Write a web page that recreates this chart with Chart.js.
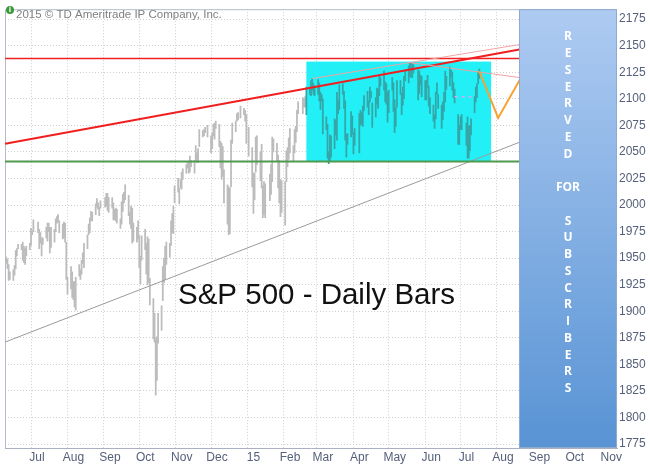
<!DOCTYPE html>
<html>
<head>
<meta charset="utf-8">
<script src="https://cdn.jsdelivr.net/npm/chart.js@4.4.1/dist/chart.umd.min.js"></script>
<style>
  body { margin: 0; background: #fff; }
  #chart { display: block; }
</style>
</head>
<body>
<canvas id="chart" width="650" height="467"></canvas>
<script>
// S&P 500 daily bars, Jun 2014 - Jul 2015 (low / high per session)
const barDates = [
  '2014-06-09','2014-06-10','2014-06-11','2014-06-12','2014-06-13','2014-06-16','2014-06-17','2014-06-18','2014-06-19','2014-06-20','2014-06-23','2014-06-24','2014-06-25','2014-06-26','2014-06-27','2014-06-30',
  '2014-07-01','2014-07-02','2014-07-03','2014-07-07','2014-07-08','2014-07-09','2014-07-10','2014-07-11','2014-07-14','2014-07-15','2014-07-16','2014-07-17','2014-07-18','2014-07-21','2014-07-22','2014-07-23','2014-07-24','2014-07-25','2014-07-28','2014-07-29','2014-07-30','2014-07-31',
  '2014-08-01','2014-08-04','2014-08-05','2014-08-06','2014-08-07','2014-08-08','2014-08-11','2014-08-12','2014-08-13','2014-08-14','2014-08-15','2014-08-18','2014-08-19','2014-08-20','2014-08-21','2014-08-22','2014-08-25','2014-08-26','2014-08-27','2014-08-28','2014-08-29',
  '2014-09-02','2014-09-03','2014-09-04','2014-09-05','2014-09-08','2014-09-09','2014-09-10','2014-09-11','2014-09-12','2014-09-15','2014-09-16','2014-09-17','2014-09-18','2014-09-19','2014-09-22','2014-09-23','2014-09-24','2014-09-25','2014-09-26','2014-09-29','2014-09-30',
  '2014-10-01','2014-10-02','2014-10-03','2014-10-06','2014-10-07','2014-10-08','2014-10-09','2014-10-10','2014-10-13','2014-10-14','2014-10-15','2014-10-16','2014-10-17','2014-10-20','2014-10-21','2014-10-22','2014-10-23','2014-10-24','2014-10-27','2014-10-28','2014-10-29','2014-10-30','2014-10-31',
  '2014-11-03','2014-11-04','2014-11-05','2014-11-06','2014-11-07','2014-11-10','2014-11-11','2014-11-12','2014-11-13','2014-11-14','2014-11-17','2014-11-18','2014-11-19','2014-11-20','2014-11-21','2014-11-24','2014-11-25','2014-11-26','2014-11-28',
  '2014-12-01','2014-12-02','2014-12-03','2014-12-04','2014-12-05','2014-12-08','2014-12-09','2014-12-10','2014-12-11','2014-12-12','2014-12-15','2014-12-16','2014-12-17','2014-12-18','2014-12-19','2014-12-22','2014-12-23','2014-12-24','2014-12-26','2014-12-29','2014-12-30','2014-12-31',
  '2015-01-02','2015-01-05','2015-01-06','2015-01-07','2015-01-08','2015-01-09','2015-01-12','2015-01-13','2015-01-14','2015-01-15','2015-01-16','2015-01-20','2015-01-21','2015-01-22','2015-01-23','2015-01-26','2015-01-27','2015-01-28','2015-01-29','2015-01-30',
  '2015-02-02','2015-02-03','2015-02-04','2015-02-05','2015-02-06','2015-02-09','2015-02-10','2015-02-11','2015-02-12','2015-02-13','2015-02-17','2015-02-18','2015-02-19','2015-02-20','2015-02-23','2015-02-24','2015-02-25','2015-02-26','2015-02-27',
  '2015-03-02','2015-03-03','2015-03-04','2015-03-05','2015-03-06','2015-03-09','2015-03-10','2015-03-11','2015-03-12','2015-03-13','2015-03-16','2015-03-17','2015-03-18','2015-03-19','2015-03-20','2015-03-23','2015-03-24','2015-03-25','2015-03-26','2015-03-27','2015-03-30','2015-03-31',
  '2015-04-01','2015-04-02','2015-04-06','2015-04-07','2015-04-08','2015-04-09','2015-04-10','2015-04-13','2015-04-14','2015-04-15','2015-04-16','2015-04-17','2015-04-20','2015-04-21','2015-04-22','2015-04-23','2015-04-24','2015-04-27','2015-04-28','2015-04-29','2015-04-30',
  '2015-05-01','2015-05-04','2015-05-05','2015-05-06','2015-05-07','2015-05-08','2015-05-11','2015-05-12','2015-05-13','2015-05-14','2015-05-15','2015-05-18','2015-05-19','2015-05-20','2015-05-21','2015-05-22','2015-05-26','2015-05-27','2015-05-28','2015-05-29',
  '2015-06-01','2015-06-02','2015-06-03','2015-06-04','2015-06-05','2015-06-08','2015-06-09','2015-06-10','2015-06-11','2015-06-12','2015-06-15','2015-06-16','2015-06-17','2015-06-18','2015-06-19','2015-06-22','2015-06-23','2015-06-24','2015-06-25','2015-06-26','2015-06-29','2015-06-30',
  '2015-07-01','2015-07-02','2015-07-06','2015-07-07','2015-07-08','2015-07-09','2015-07-10','2015-07-13','2015-07-14','2015-07-15','2015-07-16','2015-07-17'
];
const barLows = [
  1947,1945,1940,1929,1930,1929,1934,1940,1952,1959,1958,1948,1946,1944,1952,1958,
  1962,1972,1975,1974,1959,1964,1952,1963,1969,1966,1975,1955,1960,1965,1975,1983,1984,1974,1968,1969,1965,1930,
  1916,1921,1913,1911,1904,1901,1933,1930,1935,1945,1941,1959,1972,1974,1985,1985,1991,1998,1996,1990,1997,
  1998,1999,1995,1993,1997,1986,1986,1985,1983,1978,1982,1994,2002,2005,1990,1982,1978,1964,1966,1965,1968,
  1941,1926,1948,1958,1935,1925,1927,1906,1874,1871,1821,1835,1870,1882,1910,1927,1930,1944,1951,1962,1974,1973,2002,
  2012,2001,2016,2015,2024,2030,2035,2030,2031,2036,2030,2042,2040,2040,2055,2064,2065,2068,2064,
  2049,2053,2065,2062,2072,2055,2035,2024,2027,2002,1982,1972,1973,2017,2058,2069,2079,2080,2082,2085,2079,2058,
  2046,2017,1992,2005,2031,2038,2023,2016,1988,1991,1988,2004,2010,2022,2050,2041,2016,2002,1989,1993,
  1981,2022,2036,2043,2049,2041,2049,2059,2069,2086,2086,2092,2092,2085,2104,2103,2108,2104,2103,
  2104,2098,2090,2098,2067,2071,2044,2039,2041,2045,2053,2066,2061,2086,2090,2104,2091,2061,2045,2057,2064,2067,
  2048,2056,2049,2075,2076,2074,2089,2092,2085,2097,2101,2073,2083,2095,2091,2103,2112,2108,2097,2095,2078,
  2087,2108,2088,2068,2074,2092,2104,2085,2094,2100,2117,2115,2121,2120,2120,2124,2099,2105,2113,2102,
  2099,2099,2111,2093,2086,2079,2072,2081,2104,2091,2072,2080,2088,2097,2109,2112,2120,2108,2101,2096,2057,2057,
  2071,2071,2056,2044,2044,2051,2066,2087,2097,2101,2114,2119
];
const barHighs = [
  1955,1951,1949,1944,1937,1939,1943,1957,1959,1963,1963,1965,1961,1959,1961,1964,
  1978,1976,1986,1984,1977,1974,1969,1969,1979,1983,1983,1979,1979,1977,1987,1989,1991,1985,1982,1984,1983,1965,
  1932,1942,1937,1928,1928,1932,1944,1939,1948,1955,1964,1972,1982,1988,1994,1993,2001,2006,2002,1998,2004,
  2007,2011,2011,2007,2007,2002,1996,1997,1996,1987,2003,2010,2012,2019,2009,1993,1999,1997,1983,1979,1985,
  1971,1952,1971,1977,1964,1970,1968,1931,1912,1898,1874,1876,1898,1905,1942,1950,1961,1965,1964,1985,1992,1999,2018,
  2025,2016,2024,2031,2034,2038,2041,2040,2046,2042,2042,2056,2049,2053,2071,2070,2071,2073,2075,
  2065,2068,2076,2077,2079,2076,2060,2058,2055,2033,2019,2017,2016,2061,2077,2079,2086,2087,2093,2091,2089,2085,
  2073,2054,2030,2030,2064,2065,2050,2057,2018,2022,2020,2029,2038,2064,2062,2058,2047,2042,2024,2023,
  2022,2051,2054,2063,2072,2056,2071,2074,2089,2097,2101,2100,2102,2111,2111,2117,2119,2114,2112,
  2118,2115,2106,2104,2100,2083,2076,2050,2066,2065,2081,2080,2106,2098,2113,2114,2107,2098,2067,2067,2088,2084,
  2068,2072,2086,2089,2087,2093,2103,2107,2098,2111,2107,2096,2101,2110,2109,2121,2120,2126,2116,2114,2106,
  2108,2120,2115,2099,2092,2117,2117,2105,2111,2121,2127,2131,2134,2134,2133,2132,2127,2126,2122,2121,
  2117,2117,2122,2112,2101,2094,2085,2106,2115,2104,2094,2097,2106,2126,2121,2130,2127,2125,2115,2109,2085,2075,
  2083,2085,2077,2083,2074,2075,2081,2102,2111,2114,2125,2128
];

// axis ticks
const monthStarts = ['2014-07-01','2014-08-01','2014-09-01','2014-10-01','2014-11-01','2014-12-01','2015-01-01','2015-02-01','2015-03-01','2015-04-01','2015-05-01','2015-06-01','2015-07-01','2015-08-01','2015-09-01','2015-10-01','2015-11-01'];
const monthLabels = ['Jul','Aug','Sep','Oct','Nov','Dec','15','Feb','Mar','Apr','May','Jun','Jul','Aug','Sep','Oct','Nov'];
const yTicks = [1775,1800,1825,1850,1875,1900,1925,1950,1975,2000,2025,2050,2075,2100,2125,2150,2175];

// drawn trend lines [date, value]
const redRiseDates = ['2014-06-09','2015-08-20'];   const redRiseValues = [2057.6, 2146.3];
const redFlatDates = ['2014-06-09','2015-08-20'];   const redFlatValues = [2138, 2138];
const greenFlatDates = ['2014-06-09','2015-08-20']; const greenFlatValues = [2041, 2041];
const grayRiseDates = ['2014-06-09','2015-08-20'];  const grayRiseValues = [1871, 2059];
const thinUpDates = ['2015-02-25','2015-08-20'];    const thinUpValues = [2119, 2151];
const thinDownDates = ['2015-05-19','2015-08-20'];  const thinDownValues = [2134, 2120];
const pinkDates = ['2015-06-26','2015-07-11'];      const pinkValues = [2102, 2102];
const orangeDates = ['2015-07-17','2015-08-02','2015-08-24']; const orangeValues = [2126, 2082, 2125];

// consolidation box and reserved zone
const boxStart = '2015-02-20', boxEnd = '2015-07-27', boxLow = 2041, boxHigh = 2135;
const reservedStart = '2015-08-20';
const reservedText = ['R','E','S','E','R','V','E','D','','FOR','','S','U','B','S','C','R','I','B','E','R','S'];

const day0 = Date.UTC(2014, 6, 1);
function dayNum(s) {
    const p = s.split('-').map(Number);
    return (Date.UTC(p[0], p[1] - 1, p[2]) - day0) / 864e5;
}
function pts(dates, values) {
    return dates.map((d, i) => ({ x: dayNum(d), y: values[i] }));
}

const barDays = barDates.map(dayNum);
const boxStartDay = dayNum(boxStart), boxEndDay = dayNum(boxEnd);

function lineSet(dates, values, color, width, dash) {
    return {
        type: 'line',
        data: pts(dates, values),
        borderColor: color,
        borderWidth: width,
        borderDash: dash || [],
        pointRadius: 0,
        tension: 0,
        order: 1
    };
}

const decorPlugin = {
    id: 'decor',
    beforeDatasetsDraw(chart) {
        const ctx = chart.ctx, x = chart.scales.x, y = chart.scales.y, a = chart.chartArea;
        // frame left / top
        ctx.save();
        ctx.strokeStyle = '#b4bacb';
        ctx.lineWidth = 1;
        ctx.beginPath();
        ctx.moveTo(a.left + 0.5, a.bottom);
        ctx.lineTo(a.left + 0.5, a.top + 0.5);
        ctx.lineTo(a.right, a.top + 0.5);
        ctx.stroke();
        // cyan box
        const x1 = x.getPixelForValue(boxStartDay), x2 = x.getPixelForValue(boxEndDay);
        const y1 = y.getPixelForValue(boxHigh), y2 = y.getPixelForValue(boxLow);
        ctx.fillStyle = '#22f0f6';
        ctx.fillRect(x1, y1, x2 - x1, y2 - y1);
        ctx.restore();
    },
    afterDatasetsDraw(chart) {
        const ctx = chart.ctx, x = chart.scales.x, a = chart.chartArea;
        ctx.save();
        // reserved panel
        const px = Math.round(x.getPixelForValue(dayNum(reservedStart)));
        const g = ctx.createLinearGradient(0, a.top, 0, a.bottom);
        g.addColorStop(0, '#aecbf2');
        g.addColorStop(1, '#5893d4');
        ctx.fillStyle = g;
        ctx.fillRect(px, a.top, a.right - px, a.bottom - a.top);
        ctx.strokeStyle = '#8fa9cf';
        ctx.lineWidth = 1;
        ctx.strokeRect(px + 0.5, a.top + 0.5, a.right - px - 1, a.bottom - a.top - 1);
        ctx.fillStyle = '#ffffff';
        ctx.font = 'bold 12px "Open Sans", sans-serif';
        ctx.textAlign = 'center';
        ctx.textBaseline = 'middle';
        const cx = (px + a.right) / 2;
        reservedText.forEach((t, i) => {
            if (t) ctx.fillText(t, cx, 37 + i * 16.75);
        });
        // copyright
        ctx.fillStyle = '#3a9a3a';
        ctx.beginPath();
        ctx.arc(10, 10, 4, 0, Math.PI * 2);
        ctx.fill();
        ctx.fillStyle = '#fff';
        ctx.font = 'bold 7px "DejaVu Sans", sans-serif';
        ctx.fillText('i', 10, 10.5);
        ctx.fillStyle = '#808080';
        ctx.font = '11.5px "Liberation Sans", Arial, sans-serif';
        ctx.textAlign = 'left';
        ctx.fillText('2015 \u00a9 TD Ameritrade IP Company, Inc.', 16, 15);
        // title
        ctx.fillStyle = '#111';
        ctx.font = '29.5px "Liberation Sans", Arial, sans-serif';
        ctx.textBaseline = 'alphabetic';
        ctx.fillText('S&P 500 - Daily Bars', 178, 304);
        ctx.restore();
    }
};

new Chart(document.getElementById('chart'), {
    type: 'bar',
    data: {
        datasets: [
            lineSet(orangeDates, orangeValues, '#f7a233', 2),
            lineSet(thinUpDates, thinUpValues, '#f3a4a4', 1),
            lineSet(thinDownDates, thinDownValues, '#f0a0a0', 1),
            lineSet(redRiseDates, redRiseValues, '#f01e1e', 2),
            lineSet(redFlatDates, redFlatValues, '#ee2222', 1.5),
            lineSet(greenFlatDates, greenFlatValues, '#4f9a4f', 2),
            lineSet(grayRiseDates, grayRiseValues, '#9a9a9a', 1),
            lineSet(pinkDates, pinkValues, '#d8a8f0', 1.5, [3, 4]),
            {
                type: 'bar',
                data: barDays.map((d, i) => ({ x: d, y: [barLows[i], barHighs[i]] })),
                backgroundColor: ctx => {
                    const d = barDays[ctx.dataIndex];
                    return d >= boxStartDay && d <= boxEndDay ? '#35a6a8' : '#bcbcbc';
                },
                barThickness: 1.1,
                borderSkipped: false,
                order: 5
            }
        ]
    },
    options: {
        responsive: false,
        animation: false,
        layout: { padding: { left: 5, top: 3, right: 0, bottom: 0 } },
        plugins: { legend: { display: false }, tooltip: { enabled: false } },
        scales: {
            x: {
                type: 'linear',
                offset: false,
                min: dayNum('2014-06-09') - 0.1,
                max: dayNum('2015-11-11'),
                afterBuildTicks: axis => { axis.ticks = monthStarts.map(s => ({ value: dayNum(s) })); },
                afterFit: axis => { axis.height = 19; },
                grid: { color: '#cfcfcf', drawTicks: false, offset: false },
                border: { display: true, color: '#aab0c2', dash: [1, 2] },
                ticks: {
                    color: '#55607a',
                    font: { family: '"Liberation Sans", Arial, sans-serif', size: 12 },
                    padding: 2,
                    labelOffset: 6,
                    maxRotation: 0,
                    autoSkip: false,
                    callback: (v, i) => monthLabels[i]
                }
            },
            y: {
                position: 'right',
                min: 1771.3,
                max: 2184.3,
                afterBuildTicks: axis => { axis.ticks = yTicks.map(v => ({ value: v })); },
                afterFit: axis => { axis.width = 33; },
                grid: { color: '#cfcfcf', drawTicks: false },
                border: { display: false, dash: [1, 2] },
                ticks: {
                    color: '#55607a',
                    font: { family: '"Liberation Sans", Arial, sans-serif', size: 12 },
                    padding: 2,
                    callback: v => String(v)
                }
            }
        }
    },
    plugins: [decorPlugin]
});
</script>
</body>
</html>
